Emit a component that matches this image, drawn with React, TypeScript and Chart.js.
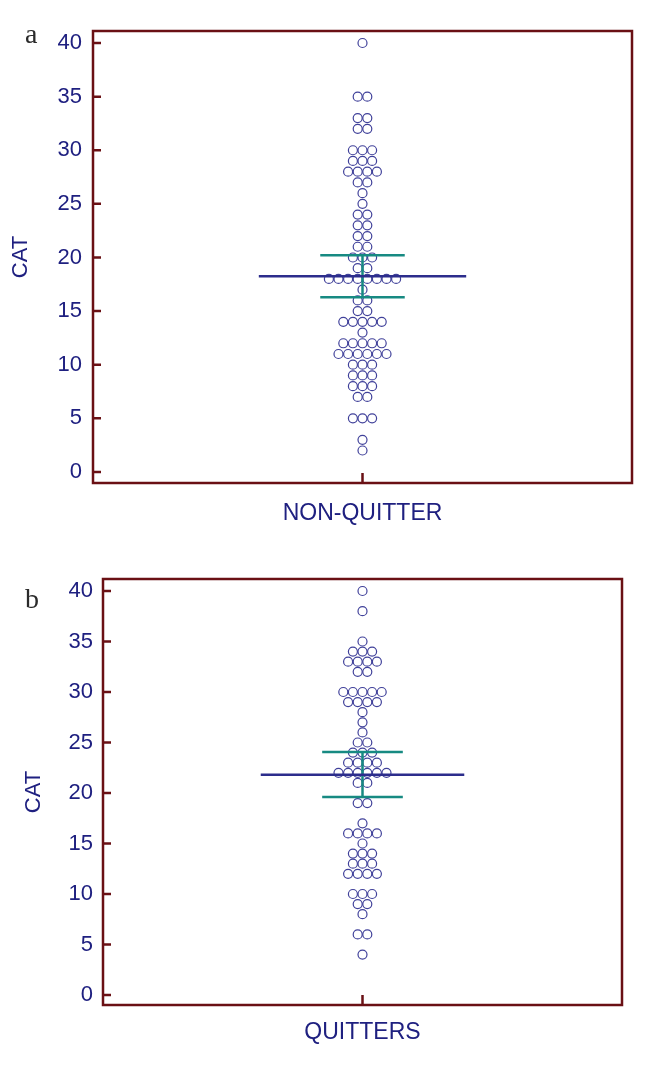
import React, { useEffect, useRef } from "react";
import { Chart, registerables } from "chart.js";

Chart.register(...registerables);

// ---------- data ----------
const yTicks = [0, 5, 10, 15, 20, 25, 30, 35, 40];

const nonQuitterLabel = "NON-QUITTER";
const nonQuitterValues = [40, 35, 33, 32, 30, 29, 28, 27, 26, 25, 24, 23, 22, 21, 20, 19, 18, 17, 16, 15, 14, 13, 12, 11, 10, 9, 8, 7, 5, 3, 2];
const nonQuitterCounts = [1, 2, 2, 2, 3, 3, 4, 2, 1, 1, 2, 2, 2, 2, 3, 2, 8, 1, 2, 2, 5, 1, 5, 6, 3, 3, 3, 2, 3, 1, 1];
const nonQuitterMean = 18.25;
const nonQuitterCI = [16.3, 20.2];

const quitterLabel = "QUITTERS";
const quitterValues = [40, 38, 35, 34, 33, 32, 30, 29, 28, 27, 26, 25, 24, 23, 22, 21, 19, 17, 16, 15, 14, 13, 12, 10, 9, 8, 6, 4];
const quitterCounts = [1, 1, 1, 3, 4, 2, 5, 4, 1, 1, 1, 2, 3, 4, 6, 2, 2, 1, 4, 1, 3, 3, 4, 3, 2, 1, 2, 1];
const quitterMean = 21.8;
const quitterCI = [19.6, 24.05];

// ---------- styles ----------
const FONT = "'Liberation Sans', Arial, sans-serif";
const TEXT = "#1f2080";
const DOT = "#40419a";
const MEAN = "#2c2d8c";
const TEAL = "#178a82";
const FRAME = "#6a1014";

type Panel = {
  label: string;
  values: number[];
  counts: number[];
  mean: number;
  ci: number[];
  height: number;
  top: number;
  right: number;
  yAxisW: number;
  xAxisH: number;
  xHalf: number;
  yMin: number;
  yMax: number;
  yTickPad: number;
  yTitlePad: number;
  xTitlePad: number;
  meanHalf: number;
  ciHalf: number;
};

const framePlugin = {
  id: "frame",
  afterDraw(chart: any) {
    const { ctx, chartArea: a, scales } = chart;
    ctx.save();
    ctx.strokeStyle = FRAME;
    ctx.lineWidth = 2.5;
    ctx.strokeRect(a.left, a.top, a.right - a.left, a.bottom - a.top);
    ctx.beginPath();
    for (const v of yTicks) {
      const py = scales.y.getPixelForValue(v);
      ctx.moveTo(a.left, py);
      ctx.lineTo(a.left + 8, py);
    }
    const px = scales.x.getPixelForValue(0);
    ctx.moveTo(px, a.bottom);
    ctx.lineTo(px, a.bottom - 10);
    ctx.stroke();
    ctx.restore();
  },
};

function DotChart({ p }: { p: Panel }) {
  const ref = useRef<HTMLCanvasElement>(null);
  useEffect(() => {
    if (!ref.current) return;
    const dots: { x: number; y: number }[] = [];
    p.values.forEach((v, i) => {
      const n = p.counts[i];
      for (let k = 0; k < n; k++) dots.push({ x: k - (n - 1) / 2, y: v });
    });
    const lineDs = (data: any[], color: string) => ({
      type: "line" as const,
      data,
      borderColor: color,
      borderWidth: 2.5,
      pointRadius: 0,
      showLine: true,
      fill: false,
      order: 0,
    });
    const chart = new Chart(ref.current, {
      type: "scatter",
      data: {
        datasets: [
          lineDs([{ x: -p.meanHalf, y: p.mean }, { x: p.meanHalf, y: p.mean }], MEAN),
          lineDs([{ x: -p.ciHalf, y: p.ci[0] }, { x: p.ciHalf, y: p.ci[0] }], TEAL),
          lineDs([{ x: -p.ciHalf, y: p.ci[1] }, { x: p.ciHalf, y: p.ci[1] }], TEAL),
          lineDs([{ x: 0, y: p.ci[0] }, { x: 0, y: p.ci[1] }], TEAL),
          {
            type: "scatter" as const,
            data: dots,
            pointRadius: 4.5,
            pointBorderWidth: 1.2,
            borderColor: DOT,
            backgroundColor: "rgba(0,0,0,0)",
            pointBackgroundColor: "rgba(0,0,0,0)",
            pointBorderColor: DOT,
            order: 1,
          } as any,
        ],
      },
      options: {
        animation: false,
        responsive: false,
        maintainAspectRatio: false,
        events: [],
        layout: { padding: { left: 0, top: p.top, right: p.right, bottom: 0 } },
        plugins: { legend: { display: false }, tooltip: { enabled: false } },
        scales: {
          x: {
            type: "linear",
            min: -p.xHalf,
            max: p.xHalf,
            grid: { display: false, drawTicks: false },
            border: { display: false },
            ticks: { display: false },
            title: {
              display: true,
              text: p.label,
              color: TEXT,
              font: { family: FONT, size: 23 },
              padding: { top: 0, bottom: p.xTitlePad },
            },
            afterFit: (s: any) => {
              s.height = p.xAxisH;
            },
          },
          y: {
            type: "linear",
            min: p.yMin,
            max: p.yMax,
            afterBuildTicks: (s: any) => {
              s.ticks = yTicks.map((v) => ({ value: v }));
            },
            grid: { display: false, drawTicks: false },
            border: { display: false },
            ticks: {
              color: TEXT,
              font: { family: FONT, size: 22 },
              padding: p.yTickPad,
            },
            title: {
              display: true,
              text: "CAT",
              color: TEXT,
              font: { family: FONT, size: 22 },
              padding: { top: p.yTitlePad, bottom: 0 },
            },
            afterFit: (s: any) => {
              s.width = p.yAxisW;
            },
          },
        },
      } as any,
      plugins: [framePlugin],
    });
    return () => chart.destroy();
  }, [p]);
  return <canvas ref={ref} width={650} height={p.height} style={{ display: "block", width: 650, height: p.height }} />;
}

const panelA: Panel = {
  label: nonQuitterLabel,
  values: nonQuitterValues,
  counts: nonQuitterCounts,
  mean: nonQuitterMean,
  ci: nonQuitterCI,
  height: 545,
  top: 31,
  right: 18,
  yAxisW: 93,
  xAxisH: 62,
  xHalf: 28.07,
  yMin: -1.03,
  yMax: 41.12,
  yTickPad: 11,
  yTitlePad: 8,
  xTitlePad: 17.2,
  meanHalf: 10.8,
  ciHalf: 4.4,
};

const panelB: Panel = {
  label: quitterLabel,
  values: quitterValues,
  counts: quitterCounts,
  mean: quitterMean,
  ci: quitterCI,
  height: 522,
  top: 34,
  right: 28,
  yAxisW: 103,
  xAxisH: 62,
  xHalf: 27.03,
  yMin: -0.99,
  yMax: 41.19,
  yTickPad: 10,
  yTitlePad: 21,
  xTitlePad: 20.2,
  meanHalf: 10.6,
  ciHalf: 4.2,
};

const letterStyle: React.CSSProperties = {
  position: "absolute",
  fontFamily: "'Liberation Serif', 'DejaVu Serif', serif",
  fontSize: 28,
  lineHeight: "28px",
  color: "#2a2a2a",
  margin: 0,
};

export default function App() {
  return (
    <div style={{ position: "absolute", left: 0, top: 0, width: 650, height: 1067, background: "#fff" }}>
      <div style={{ position: "absolute", left: 0, top: 0 }}>
        <DotChart p={panelA} />
      </div>
      <div style={{ position: "absolute", left: 0, top: 545 }}>
        <DotChart p={panelB} />
      </div>
      <div style={{ ...letterStyle, left: 25, top: 20 }}>a</div>
      <div style={{ ...letterStyle, left: 25, top: 585 }}>b</div>
    </div>
  );
}
